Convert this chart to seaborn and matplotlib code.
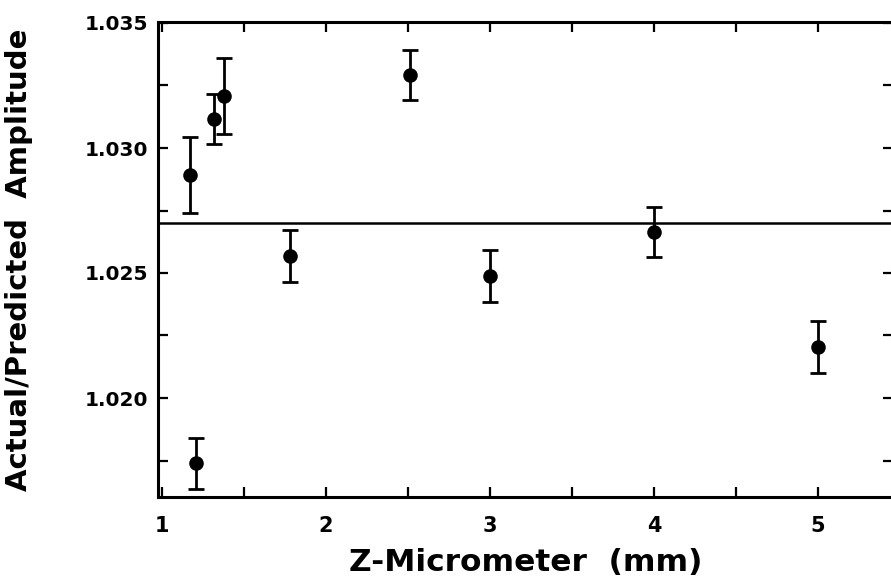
import numpy as np
import pandas as pd
import matplotlib
matplotlib.use("Agg")
import matplotlib.pyplot as plt
from matplotlib.ticker import MultipleLocator, FormatStrFormatter
import seaborn as sns

# values
z_mm = [1.17, 1.32, 1.38, 2.51, 1.78, 3.00, 4.00, 5.00, 1.21]
ratio = [1.02892, 1.03116, 1.03208, 1.03292, 1.02568, 1.02488, 1.02664, 1.02205, 1.01739]
ratio_err = [0.00153, 0.00100, 0.00152, 0.00101, 0.00103, 0.00103, 0.00100, 0.00104, 0.00103]
mean_ratio = 1.0270

df = pd.DataFrame({"z": z_mm, "ratio": ratio, "err": ratio_err})

sns.set_theme(style="ticks")
plt.rcParams["font.family"] = ["DejaVu Sans"]
plt.rcParams["text.color"] = "black"
plt.rcParams["axes.labelcolor"] = "black"
plt.rcParams["xtick.color"] = "black"
plt.rcParams["ytick.color"] = "black"

fig = plt.figure(figsize=(8.91, 5.85), dpi=100)
ax = fig.add_axes([158 / 891, 1 - 497 / 585, (893 - 158) / 891, (497 - 22) / 585])

# error bars first, then the filled circles on top
ax.errorbar(df["z"], df["ratio"], yerr=df["err"], fmt="none",
            ecolor="black", elinewidth=2.0, capsize=5.5, capthick=2.0, zorder=2)
sns.scatterplot(data=df, x="z", y="ratio", ax=ax, color="black", s=110,
                edgecolor="black", linewidth=0, zorder=3, legend=False)

ax.axhline(mean_ratio, color="black", linewidth=1.8, zorder=1)

ax.set_xlim(1 - 4 / 164, 1 + (893 - 162) / 164)
ax.set_ylim(1.01604, 1.03504)

ax.xaxis.set_major_locator(MultipleLocator(1))
ax.xaxis.set_minor_locator(MultipleLocator(0.5))
ax.yaxis.set_major_locator(MultipleLocator(0.005))
ax.yaxis.set_minor_locator(MultipleLocator(0.0025))
ax.yaxis.set_major_formatter(FormatStrFormatter("%.3f"))

ax.tick_params(which="both", direction="in", top=True, right=True,
               length=7.5, width=1.6, color="black", labelcolor="black")
ax.tick_params(axis="x", which="major", pad=14, labelsize=15)
ax.tick_params(axis="y", which="major", pad=7, labelsize=14.5)
for lbl in ax.get_xticklabels() + ax.get_yticklabels():
    lbl.set_fontweight("bold")

for side in ["left", "right", "top", "bottom"]:
    ax.spines[side].set_linewidth(2.2)
    ax.spines[side].set_color("black")
    ax.spines[side].set_visible(True)

ax.set_xlabel("Z-Micrometer  (mm)", fontsize=22.5, fontweight="bold",
              color="black", labelpad=8)
ax.set_ylabel("Actual/Predicted  Amplitude", fontsize=21, fontweight="bold",
              color="black")
ax.yaxis.set_label_coords(-(158 - 33) / 735, 0.5)

fig.savefig("out.png", dpi=100)
